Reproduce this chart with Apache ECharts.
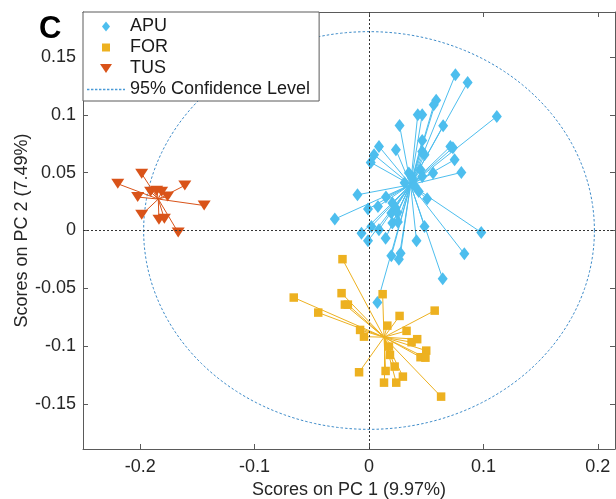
<!DOCTYPE html>
<html>
<head>
<meta charset="utf-8">
<script src="https://cdn.jsdelivr.net/npm/echarts@6/dist/echarts.min.js"></script>
<style>
  html, body { margin: 0; padding: 0; background: #fff; }
  #chart { width: 616px; height: 499px; }
</style>
</head>
<body>
<div id="chart"></div>
<script>
// PCA score plot: PC1 vs PC2 for three sample groups
const xTicks = [-0.2, -0.1, 0, 0.1, 0.2];
const yTicks = [-0.15, -0.1, -0.05, 0, 0.05, 0.1, 0.15];
const xRange = [-0.25, 0.215];
const yRange = [-0.189, 0.189];

const apuScores = [
  [0.0755, 0.1348], [0.0862, 0.1281], [0.0587, 0.1126], [0.0566, 0.1088], [0.1117, 0.0987],
  [0.0426, 0.1002], [0.0465, 0.1002], [0.0267, 0.0909], [0.0648, 0.0906], [0.0465, 0.0779],
  [0.0087, 0.0727], [0.0235, 0.0699], [0.0711, 0.0727], [0.0733, 0.0716], [0.0465, 0.0684],
  [0.0485, 0.0655], [0.0044, 0.0655], [0.0015, 0.0589], [0.0748, 0.0612], [0.0560, 0.0497],
  [0.0807, 0.0502], [0.0348, 0.0497], [0.0450, 0.0526], [0.0465, 0.0468], [0.0378, 0.0454],
  [-0.0101, 0.0309], [0.0148, 0.0289], [0.0435, 0.0338], [0.0508, 0.0274], [-0.0299, 0.0099],
  [-0.0009, 0.0185], [0.0078, 0.0208], [0.0204, 0.0237], [0.0232, 0.0194], [0.0195, 0.0151],
  [0.0247, 0.0156], [0.0204, 0.0064], [0.0252, 0.0073], [0.0021, 0.0035], [0.0087, 0.0006],
  [-0.0066, -0.0023], [-0.0009, -0.0089], [0.0145, -0.0066], [0.0485, 0.0035], [0.0981, -0.0017],
  [0.0415, -0.0089], [0.0195, -0.0219], [0.0276, -0.0196], [0.0261, -0.0248], [0.0833, -0.0202],
  [0.0644, -0.0418], [0.0073, -0.0623], [0.0311, 0.0413], [0.0398, 0.0387]
];
const forScores = [
  [-0.0232, -0.0248], [-0.0658, -0.0580], [-0.0240, -0.0542], [-0.0211, -0.0641], [-0.0185, -0.0641],
  [-0.0444, -0.0710], [0.0119, -0.0551], [0.0574, -0.0693], [0.0267, -0.0739], [0.0160, -0.0823],
  [-0.0078, -0.0860], [-0.0044, -0.0918], [0.0328, -0.0868], [0.0421, -0.0940], [0.0372, -0.0966],
  [0.0174, -0.1004], [0.0183, -0.1076], [0.0500, -0.1039], [0.0450, -0.1096], [0.0493, -0.1100],
  [0.0224, -0.1177], [-0.0087, -0.1226], [0.0145, -0.1215], [0.0296, -0.1264], [0.0131, -0.1316],
  [0.0238, -0.1316], [0.0630, -0.1437]
];
const tusScores = [
  [-0.1987, 0.0491], [-0.2196, 0.0404], [-0.1610, 0.0390], [-0.1909, 0.0335], [-0.1856, 0.0344],
  [-0.1813, 0.0335], [-0.2022, 0.0289], [-0.1761, 0.0294], [-0.1441, 0.0216], [-0.1987, 0.0136],
  [-0.1836, 0.0093], [-0.1789, 0.0101], [-0.1668, -0.0017]
];
const apuCenter = [0.0363, 0.0396];
const forCenter = [0.0131, -0.0923];
const tusCenter = [-0.1842, 0.0272];
// semi-axes of the 95% confidence ellipse (PC1, PC2)
const ellipseAxes = [0.197, 0.172];

const FONT = '"Liberation Sans", Arial, Helvetica, sans-serif';
const COLORS = { APU: '#4DBEEE', FOR: '#EDB120', TUS: '#D95319', CL: '#3d8bc9' };
const FRAME = '#5a5a5a';

// legend icons are laid out in a 38 x 10 box
const BOX = 'M0,0M38,10';
const dotted = (() => {
  let d = BOX;
  for (let x = 0; x < 38; x += 4) {
    const w = Math.min(2.4, 38 - x);
    d += 'M' + x + ',4.3h' + w + 'v1.5h-' + w + 'Z';
  }
  return 'path://' + d;
})();

function spokes(points, center) {
  return points.map(p => ({ coords: [p, center] }));
}

function frameAxis(extra) {
  return Object.assign({
    type: 'value',
    splitLine: { show: false },
    axisLine: { show: true, onZero: false, lineStyle: { color: FRAME, width: 1 } },
  }, extra);
}

function legendItem(name, icon, color) {
  return { name, icon, itemStyle: { color, borderColor: color, borderWidth: 0, opacity: 1 } };
}

const chart = echarts.init(document.getElementById('chart'), null, { renderer: 'canvas' });

chart.setOption({
  animation: false,
  backgroundColor: '#fff',
  textStyle: { fontFamily: FONT },
  grid: { left: 83, top: 12, right: 1, bottom: 50, containLabel: false, outerBoundsMode: 'none' },
  xAxis: [
    frameAxis({
      min: xRange[0], max: xRange[1], position: 'bottom',
      name: 'Scores on PC 1 (9.97%)', nameLocation: 'middle', nameGap: 32, nameMoveOverlap: false,
      nameTextStyle: { fontSize: 18, color: '#262626', fontFamily: FONT },
      axisTick: { show: true, inside: true, length: 5, customValues: xTicks, lineStyle: { color: FRAME } },
      axisLabel: { show: true, customValues: xTicks, fontSize: 18, color: '#262626', margin: 9, fontFamily: FONT }
    }),
    frameAxis({
      min: xRange[0], max: xRange[1], position: 'top',
      axisTick: { show: true, inside: true, length: 5, customValues: xTicks, lineStyle: { color: FRAME } },
      axisLabel: { show: false }
    })
  ],
  yAxis: [
    frameAxis({
      min: yRange[0], max: yRange[1], position: 'left',
      name: 'Scores on PC 2 (7.49%)', nameLocation: 'middle', nameGap: 52, nameMoveOverlap: false,
      nameTextStyle: { fontSize: 18, color: '#262626', fontFamily: FONT },
      axisTick: { show: true, inside: true, length: 5, customValues: yTicks, lineStyle: { color: FRAME } },
      axisLabel: { show: true, customValues: yTicks, fontSize: 18, color: '#262626', margin: 7, fontFamily: FONT }
    }),
    frameAxis({
      min: yRange[0], max: yRange[1], position: 'right',
      axisTick: { show: true, inside: true, length: 5, customValues: yTicks, lineStyle: { color: FRAME } },
      axisLabel: { show: false }
    })
  ],
  legend: {
    orient: 'vertical', left: 83, top: 12,
    padding: [4, 9, 1, 4],
    itemWidth: 38, itemHeight: 10, itemGap: 0,
    backgroundColor: '#fff', borderColor: FRAME, borderWidth: 1, borderRadius: 0,
    selectedMode: false, symbolRotate: 0, z: 20,
    textStyle: { fontSize: 18, color: '#1a1a1a', fontFamily: FONT, lineHeight: 21 },
    data: [
      legendItem('APU', 'path://' + BOX + 'M19,0L23,5L19,10L15,5Z', COLORS.APU),
      legendItem('FOR', 'path://' + BOX + 'M15,1H23V9H15Z', COLORS.FOR),
      legendItem('TUS', 'path://' + BOX + 'M13,0.5H25L19,9.5Z', COLORS.TUS),
      legendItem('95% Confidence Level', dotted, '#4a9ad6')
    ]
  },
  graphic: [
    { type: 'text', left: 39, top: 14, z: 30,
      style: { text: 'C', font: 'bold 31px ' + FONT, fill: '#000' } }
  ],
  series: [
    {
      // dotted zero lines
      type: 'line', name: 'origin', data: [], silent: true, z: 1,
      markLine: {
        silent: true, symbol: ['none', 'none'], label: { show: false },
        lineStyle: { type: [2, 2], color: '#333', width: 1 },
        emphasis: { disabled: true },
        data: [{ xAxis: 0 }, { yAxis: 0 }]
      }
    },
    {
      type: 'custom', name: '95% Confidence Level', coordinateSystem: 'cartesian2d',
      data: [[0, 0]], silent: true, z: 2,
      itemStyle: { color: COLORS.CL },
      renderItem(params, api) {
        const cx = api.value(0), cy = api.value(1);
        const pts = [];
        for (let k = 0; k <= 360; k++) {
          const t = k * Math.PI / 180;
          pts.push(api.coord([cx + ellipseAxes[0] * Math.cos(t), cy + ellipseAxes[1] * Math.sin(t)]));
        }
        return {
          type: 'polyline', shape: { points: pts },
          style: { stroke: COLORS.CL, fill: null, lineWidth: 1, lineDash: [2.5, 2] }
        };
      }
    },
    { type: 'lines', name: 'APU-centroid', coordinateSystem: 'cartesian2d', silent: true, z: 3,
      lineStyle: { color: COLORS.APU, width: 1, opacity: 1 }, data: spokes(apuScores, apuCenter) },
    { type: 'lines', name: 'FOR-centroid', coordinateSystem: 'cartesian2d', silent: true, z: 3,
      lineStyle: { color: COLORS.FOR, width: 1, opacity: 1 }, data: spokes(forScores, forCenter) },
    { type: 'lines', name: 'TUS-centroid', coordinateSystem: 'cartesian2d', silent: true, z: 3,
      lineStyle: { color: COLORS.TUS, width: 1, opacity: 1 }, data: spokes(tusScores, tusCenter) },
    { type: 'scatter', name: 'APU', data: apuScores, symbol: 'diamond', symbolSize: [10, 13],
      itemStyle: { color: COLORS.APU, opacity: 1 }, z: 4, silent: true },
    { type: 'scatter', name: 'FOR', data: forScores, symbol: 'rect', symbolSize: 8.5,
      itemStyle: { color: COLORS.FOR, opacity: 1 }, z: 4, silent: true },
    { type: 'scatter', name: 'TUS', data: tusScores, symbol: 'triangle', symbolSize: [13, 10], symbolRotate: 180,
      itemStyle: { color: COLORS.TUS, opacity: 1 }, z: 4, silent: true }
  ]
});
</script>
</body>
</html>
